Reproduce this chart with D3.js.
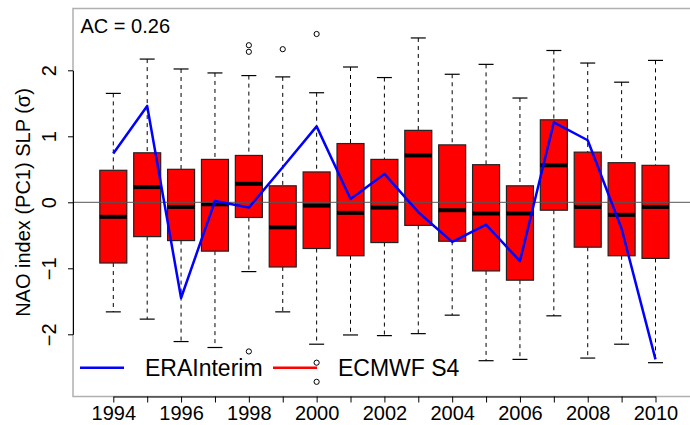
<!DOCTYPE html>
<html lang="en">
  <head>
    <meta charset="utf-8">
    <script src="https://d3js.org/d3.v7.min.js"></script>
    <style>
    body { margin: 0; background: #fff; }
    text { font-family: "Liberation Sans", Arial, Helvetica, sans-serif; fill: #000; }
    </style>
  </head>
  <body>
    <div id="place"></div>
    <script type="text/javascript">
    // values (sigma units)
    const years      = [1994, 1995, 1996, 1997, 1998, 1999, 2000, 2001, 2002, 2003, 2004, 2005, 2006, 2007, 2008, 2009, 2010];
    const whiskerLow = [-1.66, -1.77, -2.11, -2.20, -1.05, -1.66, -2.15, -2.01, -2.02, -1.99, -1.71, -2.40, -2.38, -1.72, -2.36, -2.15, -2.43];
    const q1         = [-0.92, -0.52, -0.58, -0.74, -0.23, -0.98, -0.70, -0.81, -0.61, -0.35, -0.59, -1.04, -1.18, -0.12, -0.68, -0.81, -0.85];
    const medians    = [-0.22, 0.23, -0.07, -0.03, 0.28, -0.38, -0.05, -0.16, -0.08, 0.71, -0.12, -0.17, -0.17, 0.56, -0.07, -0.19, -0.07];
    const q3         = [0.485, 0.75, 0.50, 0.65, 0.71, 0.25, 0.46, 0.89, 0.65, 1.09, 0.87, 0.57, 0.25, 1.25, 0.76, 0.60, 0.56];
    const whiskerHigh= [1.65, 2.17, 2.02, 1.96, 1.92, 1.90, 1.66, 2.05, 1.89, 2.49, 1.94, 2.09, 1.58, 2.30, 2.11, 1.82, 2.15];
    const outlierYears  = [1998, 1998, 1998, 1999, 2000, 2000, 2000];
    const outlierValues = [2.38, 2.28, -2.26, 2.32, 2.55, -2.43, -2.72];
    const eraInterim = [0.74, 1.46, -1.45, 0.02, -0.08, 0.53, 1.15, 0.05, 0.43, -0.15, -0.60, -0.34, -0.89, 1.21, 0.94, -0.40, -2.38];
    const yTicks = [-2, -1, 0, 1, 2];
    const xLabelYears = [1994, 1996, 1998, 2000, 2002, 2004, 2006, 2008, 2010];
    const legendLabels = ["ERAInterim", "ECMWF S4"];
    const legendColors = ["#0000ff", "#ff0000"];

    var width = 690, height = 425;
    var plot = { left: 73, top: 8.5, bottom: 396.5, right: 692 };

    var svg = d3.select('#place').append('svg')
      .attr('width', width)
      .attr('height', height);

    const xScale = d3.scaleLinear().domain([1994, 2010]).range([113.3, 655.5]);
    const yScale = d3.scaleLinear().domain([-2, 2]).range([334.3, 70.3]);
    const boxW = 27, stapleW = 15;

    // frame
    svg.append("rect")
      .attr("x", plot.left).attr("y", plot.top)
      .attr("width", plot.right - plot.left).attr("height", plot.bottom - plot.top)
      .attr("fill", "none").attr("stroke", "#b0b0b0").attr("stroke-width", 1.5);

    // whiskers
    var g = svg.append("g");
    years.forEach(function(yr, i) {
      var cx = xScale(yr);
      g.append("line")
        .attr("x1", cx).attr("x2", cx)
        .attr("y1", yScale(whiskerHigh[i])).attr("y2", yScale(q3[i]))
        .attr("stroke", "#000").attr("stroke-dasharray", "4,4");
      g.append("line")
        .attr("x1", cx).attr("x2", cx)
        .attr("y1", yScale(q1[i])).attr("y2", yScale(whiskerLow[i]))
        .attr("stroke", "#000").attr("stroke-dasharray", "4,4");
      [whiskerHigh[i], whiskerLow[i]].forEach(function(v) {
        g.append("line")
          .attr("x1", cx - stapleW / 2).attr("x2", cx + stapleW / 2)
          .attr("y1", yScale(v)).attr("y2", yScale(v))
          .attr("stroke", "#000").attr("stroke-width", 1.2);
      });
      g.append("rect")
        .attr("x", cx - boxW / 2).attr("y", yScale(q3[i]))
        .attr("width", boxW).attr("height", yScale(q1[i]) - yScale(q3[i]))
        .attr("fill", "#ff0000").attr("stroke", "#222").attr("stroke-width", 1.2);
      g.append("line")
        .attr("x1", cx - boxW / 2).attr("x2", cx + boxW / 2)
        .attr("y1", yScale(medians[i])).attr("y2", yScale(medians[i]))
        .attr("stroke", "#000").attr("stroke-width", 4);
    });

    // outliers
    outlierYears.forEach(function(yr, i) {
      g.append("circle")
        .attr("cx", xScale(yr)).attr("cy", yScale(outlierValues[i]))
        .attr("r", 2.6).attr("fill", "none").attr("stroke", "#000").attr("stroke-width", 1);
    });

    // zero line
    svg.append("line")
      .attr("x1", plot.left).attr("x2", plot.right)
      .attr("y1", yScale(0)).attr("y2", yScale(0))
      .attr("stroke", "#555").attr("stroke-width", 1);

    // ERA-Interim line
    const line = d3.line()
      .x(function(d, i) { return xScale(years[i]); })
      .y(function(d) { return yScale(d); });
    svg.append("path")
      .datum(eraInterim)
      .attr("fill", "none")
      .attr("stroke", "#0000ff")
      .attr("stroke-width", 2.5)
      .attr("stroke-linejoin", "round")
      .attr("d", line);

    // X axis
    var xAxis = svg.append("g")
      .attr("transform", `translate(0,${plot.bottom})`)
      .call(d3.axisBottom(xScale).tickValues(years).tickSize(6).tickSizeOuter(0).tickFormat(function(d) {
        return xLabelYears.indexOf(d) >= 0 ? d : "";
      }));
    xAxis.select(".domain").attr("stroke", "#000");
    xAxis.selectAll(".tick text")
      .attr("y", 9).attr("dy", "0.71em")
      .style("font-size", "20px")
      .style("font-family", '"Liberation Sans", Arial, sans-serif');

    // Y axis (labels parallel to axis, as R does)
    var yAxis = svg.append("g")
      .attr("transform", `translate(${plot.left},0)`)
      .call(d3.axisLeft(yScale).tickValues(yTicks).tickSize(5).tickSizeOuter(0)
        .tickFormat(function(d) { return d < 0 ? "\u2212" + Math.abs(d) : d; }));
    yAxis.select(".domain").attr("stroke", "#000");
    yAxis.selectAll(".tick text")
      .attr("x", null).attr("dy", null)
      .attr("text-anchor", "middle")
      .attr("transform", "translate(-17,0) rotate(-90)")
      .style("font-size", "20px")
      .style("font-family", '"Liberation Sans", Arial, sans-serif');

    // Y label
    svg.append("text")
      .attr("transform", `translate(30,${(plot.top + plot.bottom) / 2}) rotate(-90)`)
      .attr("text-anchor", "middle")
      .style("font-size", "20px")
      .text("NAO index (PC1) SLP (\u03c3)");

    // AC annotation
    svg.append("text")
      .attr("x", 80.5).attr("y", 32.5)
      .style("font-size", "20px")
      .text("AC = 0.26");

    // legend
    var legX = [80, 273];
    legendLabels.forEach(function(lab, i) {
      svg.append("line")
        .attr("x1", legX[i]).attr("x2", legX[i] + 44)
        .attr("y1", 367.7).attr("y2", 367.7)
        .attr("stroke", legendColors[i]).attr("stroke-width", 2.5);
      svg.append("text")
        .attr("x", legX[i] + 65).attr("y", 376)
        .style("font-size", "23px")
        .text(lab);
    });
    </script>
  </body>
</html>
